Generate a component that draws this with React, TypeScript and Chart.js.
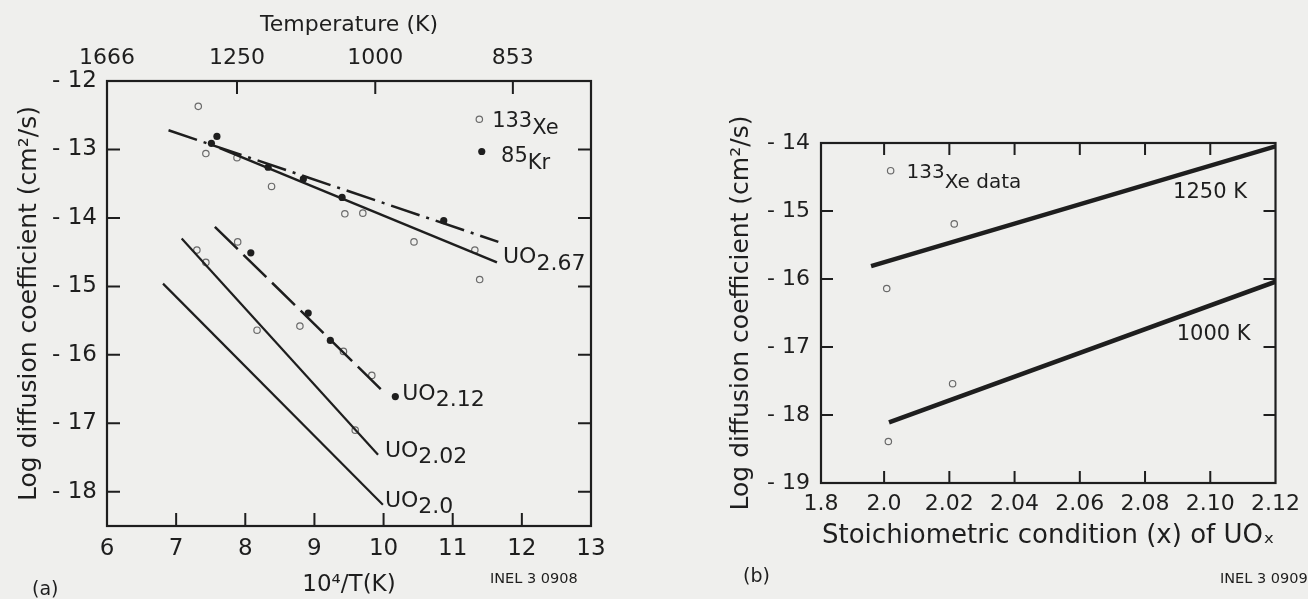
import React, { useEffect, useRef } from "react";
import { Chart, registerables } from "chart.js";

Chart.register(...registerables);

// ---------- DATA: panel (a) ----------
const xeLeftX = [7.32, 7.43, 7.88, 8.38, 9.44, 9.70, 10.44, 11.32, 11.39, 7.89, 8.79, 9.42, 9.83, 7.30, 7.43, 8.17, 9.59];
const xeLeftY = [-12.37, -13.06, -13.12, -13.54, -13.94, -13.93, -14.35, -14.47, -14.90, -14.35, -15.58, -15.95, -16.30, -14.47, -14.65, -15.64, -17.10];
const krLeftX = [7.51, 7.59, 8.33, 8.84, 9.40, 10.87, 8.08, 8.91, 9.23, 10.17];
const krLeftY = [-12.91, -12.81, -13.26, -13.43, -13.70, -14.04, -14.51, -15.39, -15.79, -16.61];

const uo267aX = [6.89, 11.66];
const uo267aY = [-12.72, -14.35];
const uo267bX = [7.63, 11.64];
const uo267bY = [-12.98, -14.65];
const uo212X = [7.56, 10.02];
const uo212Y = [-14.13, -16.56];
const uo202X = [7.08, 9.92];
const uo202Y = [-14.30, -17.46];
const uo20X = [6.81, 9.99];
const uo20Y = [-14.96, -18.19];

const leftYTicks = [-12, -13, -14, -15, -16, -17, -18];
const leftXTicks = [6, 7, 8, 9, 10, 11, 12, 13];
const topTickValues = [6.0, 7.88, 9.88, 11.87];
const topTickLabels = ["1666", "1250", "1000", "853"];

// ---------- DATA: panel (b) ----------
const rightXMin = 1.98065;
const rightXTickValues = [rightXMin, 2.0, 2.02, 2.04, 2.06, 2.08, 2.1, 2.12];
const rightXTickLabels = ["1.8", "2.0", "2.02", "2.04", "2.06", "2.08", "2.10", "2.12"];
const rightYTicks = [-14, -15, -16, -17, -18, -19];

const line1250X = [1.996, 2.12];
const line1250Y = [-15.81, -14.05];
const line1000X = [2.0015, 2.12];
const line1000Y = [-18.11, -16.04];
const xeRightX = [2.0215, 2.0008, 2.021, 2.0013];
const xeRightY = [-15.19, -16.14, -17.54, -18.39];

// ---------- helpers ----------
const FAMILY = '"DejaVu Sans", "Liberation Sans", Arial, sans-serif';
const INK = "#1e1e1e";
const BG = "#efefed";

const pts = (xs: number[], ys: number[]) => xs.map((x, i) => ({ x, y: ys[i] }));
const negLabel = (v: number) => "- " + Math.abs(v);

type Part = { t: string; dy?: number; size?: number };
type Note = { parts: Part[]; x: number; y: number; px?: boolean; size: number };

const framePlugin = {
  id: "frame",
  afterDraw(chart: any, _args: any, opts: any) {
    const { ctx, chartArea: a } = chart;
    const xs = chart.scales.x;
    const ys = chart.scales.y;
    const L = opts.tickLen || 12;
    ctx.save();
    ctx.strokeStyle = INK;
    ctx.lineWidth = opts.lineWidth || 2;
    ctx.strokeRect(a.left, a.top, a.right - a.left, a.bottom - a.top);
    ctx.lineWidth = opts.tickWidth || 2;
    ctx.beginPath();
    (opts.bottom || []).forEach((v: number) => {
      const p = xs.getPixelForValue(v);
      ctx.moveTo(p, a.bottom);
      ctx.lineTo(p, a.bottom - L);
    });
    (opts.top || []).forEach((v: number) => {
      const p = xs.getPixelForValue(v);
      ctx.moveTo(p, a.top);
      ctx.lineTo(p, a.top + L);
    });
    (opts.left || []).forEach((v: number) => {
      const p = ys.getPixelForValue(v);
      ctx.moveTo(a.left, p);
      ctx.lineTo(a.left + L, p);
    });
    (opts.right || []).forEach((v: number) => {
      const p = ys.getPixelForValue(v);
      ctx.moveTo(a.right, p);
      ctx.lineTo(a.right - L, p);
    });
    ctx.stroke();
    ctx.restore();
  },
};

const notesPlugin = {
  id: "notes",
  afterDraw(chart: any, _args: any, opts: any) {
    const { ctx } = chart;
    const xs = chart.scales.x;
    const ys = chart.scales.y;
    ctx.save();
    ctx.fillStyle = INK;
    ctx.textBaseline = "alphabetic";
    ctx.textAlign = "left";
    (opts.notes || []).forEach((n: Note) => {
      let cx = n.px ? n.x : xs.getPixelForValue(n.x);
      const cy = n.px ? n.y : ys.getPixelForValue(n.y);
      n.parts.forEach((p) => {
        ctx.font = `${p.size || n.size}px ${FAMILY}`;
        ctx.fillText(p.t, cx, cy + (p.dy || 0));
        cx += ctx.measureText(p.t).width;
      });
    });
    (opts.markers || []).forEach((m: any) => {
      const px = xs.getPixelForValue(m.x);
      const py = ys.getPixelForValue(m.y);
      ctx.beginPath();
      ctx.arc(px, py, m.r, 0, Math.PI * 2);
      if (m.filled) {
        ctx.fillStyle = INK;
        ctx.fill();
      } else {
        ctx.strokeStyle = "#6a6a6a";
        ctx.lineWidth = 1.2;
        ctx.stroke();
      }
    });
    ctx.restore();
  },
};

const lineDs = (xs: number[], ys: number[], width: number, dash: number[] = []) => ({
  type: "line" as const,
  data: pts(xs, ys),
  showLine: true,
  borderColor: INK,
  borderWidth: width,
  borderDash: dash,
  pointRadius: 0,
  fill: false,
  tension: 0,
});

const openDs = (xs: number[], ys: number[]) => ({
  type: "scatter" as const,
  data: pts(xs, ys),
  pointRadius: 3.2,
  pointBorderWidth: 1.2,
  pointBorderColor: "#6a6a6a",
  pointBackgroundColor: "rgba(0,0,0,0)",
  showLine: false,
});

const filledDs = (xs: number[], ys: number[]) => ({
  type: "scatter" as const,
  data: pts(xs, ys),
  pointRadius: 3.6,
  pointBorderWidth: 0,
  pointBackgroundColor: INK,
  showLine: false,
});

function makeLeft(canvas: HTMLCanvasElement) {
  return new Chart(canvas, {
    type: "scatter",
    data: {
      datasets: [
        lineDs(uo267aX, uo267aY, 2.5, [30, 7, 3, 7]),
        lineDs(uo267bX, uo267bY, 2.5),
        lineDs(uo212X, uo212Y, 2.5, [32, 8]),
        lineDs(uo202X, uo202Y, 2.2),
        lineDs(uo20X, uo20Y, 2.2),
        openDs(xeLeftX, xeLeftY),
        filledDs(krLeftX, krLeftY),
      ] as any,
    },
    options: {
      animation: false,
      responsive: false,
      devicePixelRatio: 1,
      layout: { padding: { left: 0, right: 49, top: 0, bottom: 0 } },
      plugins: {
        legend: { display: false },
        tooltip: { enabled: false },
        frame: {
          bottom: [7, 8, 9, 10, 11, 12],
          top: topTickValues.slice(1),
          left: leftYTicks.slice(1),
          right: leftYTicks.slice(1),
          tickLen: 13,
          lineWidth: 2.2,
        },
        notes: {
          notes: [
            { parts: [{ t: "UO" }, { t: "2.67", dy: 7 }], x: 11.727, y: -14.658, size: 22 },
            { parts: [{ t: "UO" }, { t: "2.12", dy: 6 }], x: 10.27, y: -16.66, size: 22 },
            { parts: [{ t: "UO" }, { t: "2.02", dy: 6 }], x: 10.02, y: -17.49, size: 22 },
            { parts: [{ t: "UO" }, { t: "2.0", dy: 6 }], x: 10.02, y: -18.22, size: 22 },
            { parts: [{ t: "133" }, { t: "Xe", dy: 7 }], x: 11.57, y: -12.672, size: 21 },
            { parts: [{ t: "85" }, { t: "Kr", dy: 7 }], x: 11.70, y: -13.183, size: 21 },
            { parts: [{ t: "(a)" }], x: 32, y: 595, px: true, size: 19 },
            { parts: [{ t: "INEL 3 0908" }], x: 490, y: 583, px: true, size: 14.5 },
          ],
          markers: [
            { x: 11.385, y: -12.559, r: 3.2, filled: false },
            { x: 11.42, y: -13.03, r: 3.6, filled: true },
          ],
        },
      } as any,
      scales: {
        x: {
          type: "linear",
          position: "bottom",
          min: 6,
          max: 13,
          afterFit: (s: any) => {
            s.height = 73;
          },
          afterBuildTicks: (s: any) => {
            s.ticks = leftXTicks.map((v) => ({ value: v }));
          },
          ticks: { font: { family: FAMILY, size: 23 }, color: INK, padding: 9, maxRotation: 0, autoSkip: false },
          grid: { display: false, drawTicks: false },
          border: { display: false },
          title: {
            display: true,
            text: "10⁴/T(K)",
            font: { family: FAMILY, size: 23 },
            color: INK,
            padding: { top: 0, bottom: 0 },
          },
        },
        x2: {
          type: "linear",
          position: "top",
          min: 6,
          max: 13,
          afterFit: (s: any) => {
            s.height = 81;
          },
          afterBuildTicks: (s: any) => {
            s.ticks = topTickValues.map((v) => ({ value: v }));
          },
          ticks: {
            font: { family: FAMILY, size: 22 },
            color: INK,
            padding: 10,
            maxRotation: 0,
            autoSkip: false,
            callback: (_v: any, i: number) => topTickLabels[i],
          },
          grid: { display: false, drawTicks: false },
          border: { display: false },
          title: {
            display: true,
            text: "Temperature (K)",
            font: { family: FAMILY, size: 22 },
            color: INK,
            padding: { top: 12, bottom: 0 },
          },
        },
        y: {
          type: "linear",
          position: "left",
          min: -18.5,
          max: -12,
          afterFit: (s: any) => {
            s.width = 107;
          },
          afterBuildTicks: (s: any) => {
            s.ticks = leftYTicks.map((v) => ({ value: v }));
          },
          ticks: { font: { family: FAMILY, size: 23 }, color: INK, padding: 10, callback: (v: any) => negLabel(Number(v)) },
          grid: { display: false, drawTicks: false },
          border: { display: false },
          title: {
            display: true,
            text: "Log diffusion coefficient (cm²/s)",
            font: { family: FAMILY, size: 25 },
            color: INK,
            padding: { top: 14, bottom: 0 },
          },
        },
      },
    } as any,
    plugins: [framePlugin, notesPlugin],
  });
}

function makeRight(canvas: HTMLCanvasElement) {
  return new Chart(canvas, {
    type: "scatter",
    data: {
      datasets: [
        lineDs(line1250X, line1250Y, 4.5),
        lineDs(line1000X, line1000Y, 4.5),
        openDs(xeRightX, xeRightY),
      ] as any,
    },
    options: {
      animation: false,
      responsive: false,
      devicePixelRatio: 1,
      layout: { padding: { left: 0, right: 26, top: 143, bottom: 0 } },
      plugins: {
        legend: { display: false },
        tooltip: { enabled: false },
        frame: {
          bottom: [2.0, 2.02, 2.04, 2.06, 2.08, 2.1],
          top: [2.0, 2.02, 2.04, 2.06, 2.08, 2.1],
          left: [-15, -16, -17, -18],
          right: [-15, -16, -17, -18],
          tickLen: 12,
          lineWidth: 2.2,
        },
        notes: {
          notes: [
            { parts: [{ t: "133", size: 20 }, { t: "Xe data", dy: 10, size: 20 }], x: 2.0069, y: -14.519, size: 20 },
            { parts: [{ t: "1250 K" }], x: 2.0886, y: -14.809, size: 21 },
            { parts: [{ t: "1000 K" }], x: 2.0897, y: -16.897, size: 21 },
            { parts: [{ t: "(b)" }], x: 103, y: 582, px: true, size: 19 },
            { parts: [{ t: "INEL 3 0909" }], x: 580, y: 583, px: true, size: 14.5 },
          ],
          markers: [{ x: 2.002, y: -14.407, r: 3.2, filled: false }],
        },
      } as any,
      scales: {
        x: {
          type: "linear",
          position: "bottom",
          min: rightXMin,
          max: 2.12,
          afterFit: (s: any) => {
            s.height = 116;
          },
          afterBuildTicks: (s: any) => {
            s.ticks = rightXTickValues.map((v) => ({ value: v }));
          },
          ticks: {
            font: { family: FAMILY, size: 22 },
            color: INK,
            padding: 8,
            maxRotation: 0,
            autoSkip: false,
            callback: (_v: any, i: number) => rightXTickLabels[i],
          },
          grid: { display: false, drawTicks: false },
          border: { display: false },
          title: {
            display: true,
            text: "Stoichiometric condition (x) of UOₓ",
            font: { family: FAMILY, size: 26 },
            color: INK,
            padding: { top: 0, bottom: 47 },
          },
        },
        y: {
          type: "linear",
          position: "left",
          min: -19,
          max: -14,
          afterFit: (s: any) => {
            s.width = 181;
          },
          afterBuildTicks: (s: any) => {
            s.ticks = rightYTicks.map((v) => ({ value: v }));
          },
          ticks: { font: { family: FAMILY, size: 22 }, color: INK, padding: 11, callback: (v: any) => negLabel(Number(v)) },
          grid: { display: false, drawTicks: false },
          border: { display: false },
          title: {
            display: true,
            text: "Log diffusion coefficient (cm²/s)",
            font: { family: FAMILY, size: 25 },
            color: INK,
            padding: { top: 86, bottom: 0 },
          },
        },
      },
    } as any,
    plugins: [framePlugin, notesPlugin],
  });
}

export default function App() {
  const leftRef = useRef<HTMLCanvasElement | null>(null);
  const rightRef = useRef<HTMLCanvasElement | null>(null);

  useEffect(() => {
    const a = leftRef.current ? makeLeft(leftRef.current) : null;
    const b = rightRef.current ? makeRight(rightRef.current) : null;
    return () => {
      a && a.destroy();
      b && b.destroy();
    };
  }, []);

  return (
    <div style={{ position: "fixed", left: 0, top: 0, width: 1308, height: 599, background: BG, overflow: "hidden" }}>
      <canvas
        ref={leftRef}
        width={640}
        height={599}
        style={{ position: "absolute", left: 0, top: 0, width: 640, height: 599 }}
      />
      <canvas
        ref={rightRef}
        width={668}
        height={599}
        style={{ position: "absolute", left: 640, top: 0, width: 668, height: 599 }}
      />
    </div>
  );
}
